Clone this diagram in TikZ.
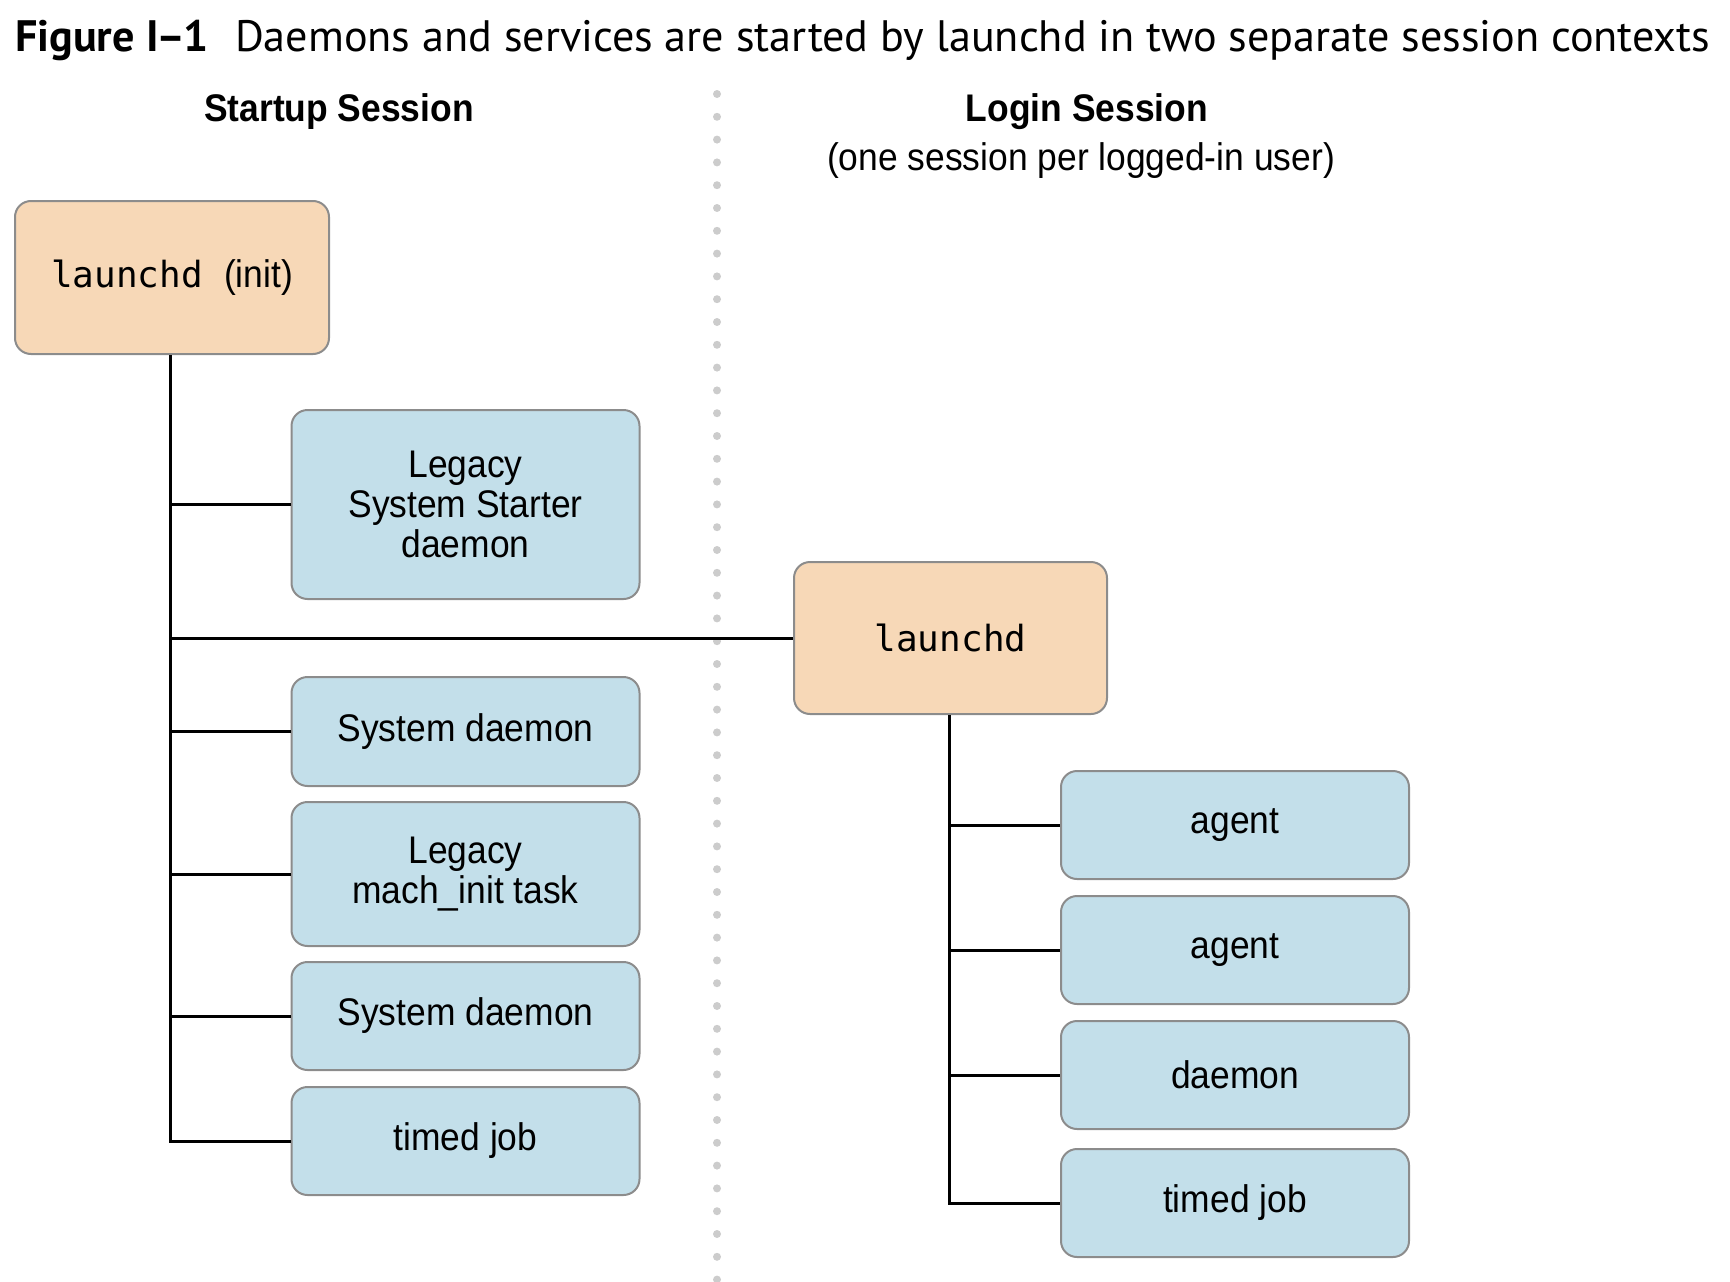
\documentclass[tikz,border=0pt]{standalone}
\usepackage{fontspec}
\usepackage{graphicx}
\newfontfamily\hv[FakeStretch=0.92]{Liberation Sans}
\newfontfamily\monof{DejaVu Sans Mono}
\newfontfamily\ttlfont{PT Sans}
\definecolor{orfill}{HTML}{F7D8B7}
\definecolor{blfill}{HTML}{C3DFEA}
\definecolor{boxline}{HTML}{8C8C8C}
\definecolor{dotgray}{HTML}{CCCCCC}
\begin{document}
\begin{tikzpicture}[x=1pt,y=-1pt,
  box/.style={draw=boxline, line width=2pt, rounded corners=16pt, inner sep=0pt, align=center,
              font=\hv\fontsize{38.5}{40}\selectfont},
  proc/.style={box, fill=orfill, minimum width=314pt, minimum height=153pt},
  job/.style={box, fill=blfill, minimum width=348pt},
  wire/.style={line width=3pt, black},
  head/.style={font=\hv\fontsize{38.5}{40}\selectfont, inner sep=0pt, anchor=base}
]
\useasboundingbox (0,0) rectangle (1730,1282);

% title
\node[anchor=base west, inner sep=0pt] (title) at (15,51)
  {\resizebox{1695pt}{\height}{\ttlfont\fontsize{44}{48}\selectfont\textbf{Figure I\kern-0.05em–\kern-0.05em1}\hspace{0.6em}Daemons and services are started by launchd in two separate session contexts}};

% headers
\node[head] (hstart) at (339,121) {\bfseries Startup Session};
\node[head] (hlogin) at (1087,121) {\bfseries Login Session};
\node[head] (hsub) at (1081,170) {(one session per logged-in user)};

% dotted divider
\foreach \k in {0,...,52} {
  \fill[dotgray] (717,94+22.8*\k) circle (4pt);
}

% nodes
\node[proc] (init) at (172,277.5) {{\monof\fontsize{36}{40}\selectfont launchd}\hspace{0.55em}(init)};
\node[proc, minimum width=313pt, minimum height=152pt] (login) at (950.5,638) {\monof\fontsize{36}{40}\selectfont launchd};

\node[job, minimum height=189pt] (lss) at (465.5,504.5) {Legacy\\System Starter\\daemon};
\node[job, minimum height=109pt] (sd1) at (465.5,731.5) {System daemon};
\node[job, minimum height=144pt] (mach) at (465.5,874) {Legacy\\mach\_init task};
\node[job, minimum height=108pt] (sd2) at (465.5,1016) {System daemon};
\node[job, minimum height=108pt] (tj1) at (465.5,1141) {timed job};

\node[job, minimum height=108pt] (ag1) at (1235,825) {agent};
\node[job, minimum height=108pt] (ag2) at (1235,950) {agent};
\node[job, minimum height=108pt] (dm) at (1235,1075) {daemon};
\node[job, minimum height=108pt] (tj2) at (1235,1203) {timed job};

\coordinate (ltop) at ([xshift=-2pt]init.south);
\coordinate (rtop) at ([xshift=-1.5pt]login.south);

% left tree
\draw[wire] (ltop) -- (ltop |- tj1.west) -- (tj1.west);
\foreach \b in {lss,sd1,mach,sd2} {
  \draw[wire] (ltop |- \b.west) -- (\b.west);
}
\draw[wire] (ltop |- login.west) -- (login.west);

% right tree
\draw[wire] (rtop) -- (rtop |- tj2.west) -- (tj2.west);
\foreach \b in {ag1,ag2,dm} {
  \draw[wire] (rtop |- \b.west) -- (\b.west);
}
\end{tikzpicture}
\end{document}
